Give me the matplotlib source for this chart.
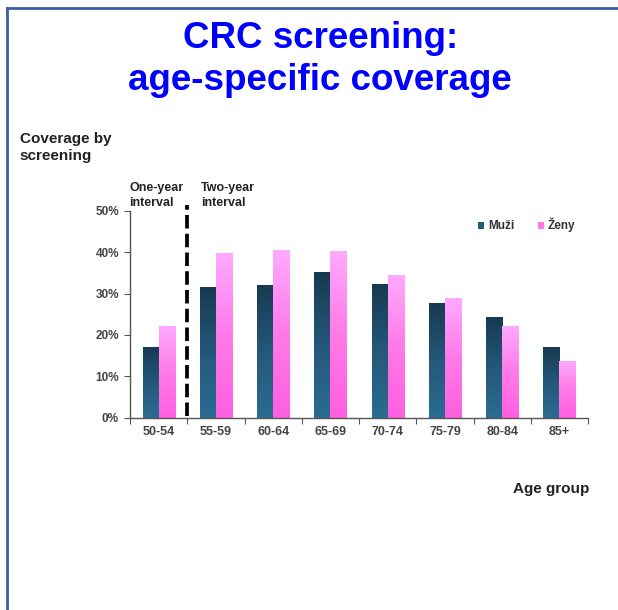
import numpy as np
import matplotlib.pyplot as plt
from matplotlib.colors import LinearSegmentedColormap
from matplotlib.patches import Patch
from matplotlib.lines import Line2D

plt.rcParams['font.family'] = ['Liberation Sans', 'DejaVu Sans']

# data
age_groups = ['50-54', '55-59', '60-64', '65-69', '70-74', '75-79', '80-84', '85+']
muzi = [17.1, 31.4, 32.0, 35.1, 32.3, 27.6, 24.2, 17.1]
zeny = [22.1, 39.7, 40.4, 40.1, 34.4, 28.9, 22.1, 13.7]
yticks = [0, 10, 20, 30, 40, 50]

fig = plt.figure(figsize=(6.18, 6.10), dpi=100)
ax = fig.add_axes([0.2104, 0.3152, 0.7411, 0.3394])

# gradient colormaps (bottom -> top)
cm_muzi = LinearSegmentedColormap.from_list('muzi', ['#2b6c92', '#24587a', '#173a52'])
cm_zeny = LinearSegmentedColormap.from_list('zeny', ['#ff5fe0', '#ff7ae8', '#ffaaff'])

x = np.arange(len(age_groups))
w = 0.28
bars_m = ax.bar(x - w / 2, muzi, w, color='none')
bars_z = ax.bar(x + w / 2, zeny, w, color='none')

grad = np.linspace(0, 1, 256).reshape(-1, 1)
for bars, cmap in [(bars_m, cm_muzi), (bars_z, cm_zeny)]:
    for b in bars:
        x0, h = b.get_x(), b.get_height()
        ax.imshow(grad, cmap=cmap, origin='lower', aspect='auto',
                  extent=[x0, x0 + b.get_width(), 0, h], zorder=2)

ax.set_xlim(-0.5, len(age_groups) - 0.5)
ax.set_ylim(0, 50)

# separator between one-year and two-year interval
ax.plot([0.5, 0.5], [0.3, 51.3], color='black', lw=2.7, ls=(0, (3.6, 1.4)),
        clip_on=False, zorder=3)

for s in ['top', 'right']:
    ax.spines[s].set_visible(False)
for s in ['left', 'bottom']:
    ax.spines[s].set_color('#555555')
    ax.spines[s].set_linewidth(1)

ax.set_yticks(yticks)
ax.set_yticklabels([f'{v}%' for v in yticks])
ax.set_xticks(np.arange(len(age_groups) + 1) - 0.5, minor=False)
ax.set_xticklabels([])
ax.set_xticks(x, minor=True)
ax.set_xticklabels(age_groups, minor=True)
ax.tick_params(axis='x', which='major', length=4, color='#555555', direction='out')
ax.tick_params(axis='x', which='minor', length=0, pad=6, labelsize=9, labelcolor='#444444')
ax.tick_params(axis='y', length=4, color='#555555', labelsize=8.5, labelcolor='#444444', pad=4)
for lab in ax.get_xticklabels(minor=True) + ax.get_yticklabels():
    lab.set_fontweight('bold')

handles = [Patch(facecolor='#245a7c', edgecolor='none'),
           Patch(facecolor='#ff77ea', edgecolor='none')]
fig.legend(handles, ['Muži', 'Ženy'], loc='center',
           bbox_to_anchor=(0.852, 0.631), ncol=2, frameon=False,
           handlelength=0.55, handleheight=0.55, handletextpad=0.3, columnspacing=2.0,
           prop={'weight': 'bold', 'size': 8.5}, labelcolor='#333333')

# texts (multi-line texts anchored on the baseline of their last line)
fig.text(0.518, 0.9208, 'CRC screening:', ha='center', va='baseline',
         color='#0000ff', fontsize=26.5, fontweight='bold')
fig.text(0.518, 0.8525, 'age-specific coverage', ha='center', va='baseline',
         color='#0000ff', fontsize=26.5, fontweight='bold')
fig.text(0.032, 1 - 159.5 / 610, 'Coverage by\nscreening', ha='left', va='baseline',
         fontsize=11, fontweight='bold', color='#222222', linespacing=1.2)
fig.text(129 / 618, 1 - 206.5 / 610, 'One-year\ninterval', ha='left', va='baseline',
         fontsize=9, fontweight='bold', color='#222222', linespacing=1.35)
fig.text(201 / 618, 1 - 206.5 / 610, 'Two-year\ninterval', ha='left', va='baseline',
         fontsize=9, fontweight='bold', color='#222222', linespacing=1.35)
fig.text(589 / 618, 1 - 493.3 / 610, 'Age group', ha='right', va='baseline',
         fontsize=11, fontweight='bold', color='#222222')

# slide frame (left and top border)
fig.add_artist(Line2D([0.0115, 0.0115], [0, 0.987], color='#3b5ea6', lw=2))
fig.add_artist(Line2D([0.0115, 1.0], [0.987, 0.987], color='#3b5ea6', lw=2))

fig.savefig('out.png', dpi=100)
